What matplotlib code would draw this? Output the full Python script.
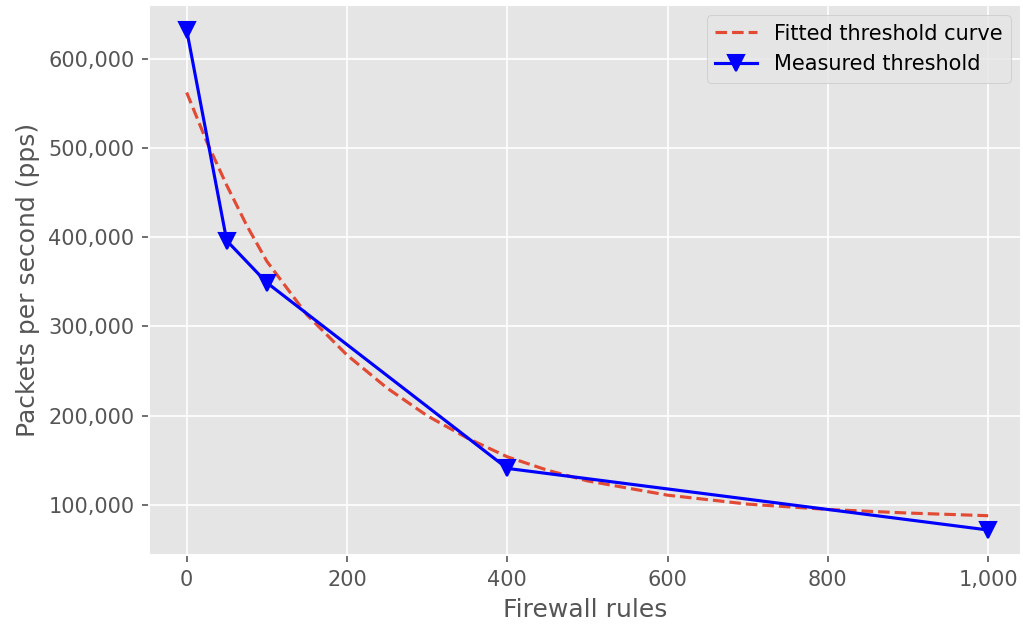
import numpy as np
import matplotlib.pyplot as plt
from matplotlib.ticker import FuncFormatter

plt.style.use('ggplot')

# measured thresholds
rules = [0, 50, 100, 400, 1000]
measured_pps = [632000, 396000, 349000, 141000, 72000]

# fitted curve
fit_rules = [0, 25, 50, 75, 100, 150, 200, 250, 300, 350, 400, 450, 500, 600, 700, 800, 900, 1000]
fit_pps = [562000, 507000, 458000, 413000, 373000, 313000, 268000, 231000, 200000, 175000,
           154000, 139000, 127000, 111000, 101000, 95000, 91000, 88000]

fig = plt.figure(figsize=(1023 / 150, 628 / 150), dpi=150)
fig.subplots_adjust(left=149/1023, right=1021/1023, top=1 - 5/628, bottom=1 - 555/628)
ax = plt.gca()
ax.plot(fit_rules, fit_pps, '--', color='#E24A33', label='Fitted threshold curve')
ax.plot(rules, measured_pps, '-v', color='blue', markersize=8, label='Measured threshold')

ax.set_xlim(-47, 1041)
ax.set_xlabel('Firewall rules')
ax.set_ylabel('Packets per second (pps)')
ax.xaxis.set_major_formatter(FuncFormatter(lambda v, p: f'{int(v):,}'))
ax.yaxis.set_major_formatter(FuncFormatter(lambda v, p: f'{int(v):,}'))
ax.legend()

plt.savefig('out.png', dpi=150)
